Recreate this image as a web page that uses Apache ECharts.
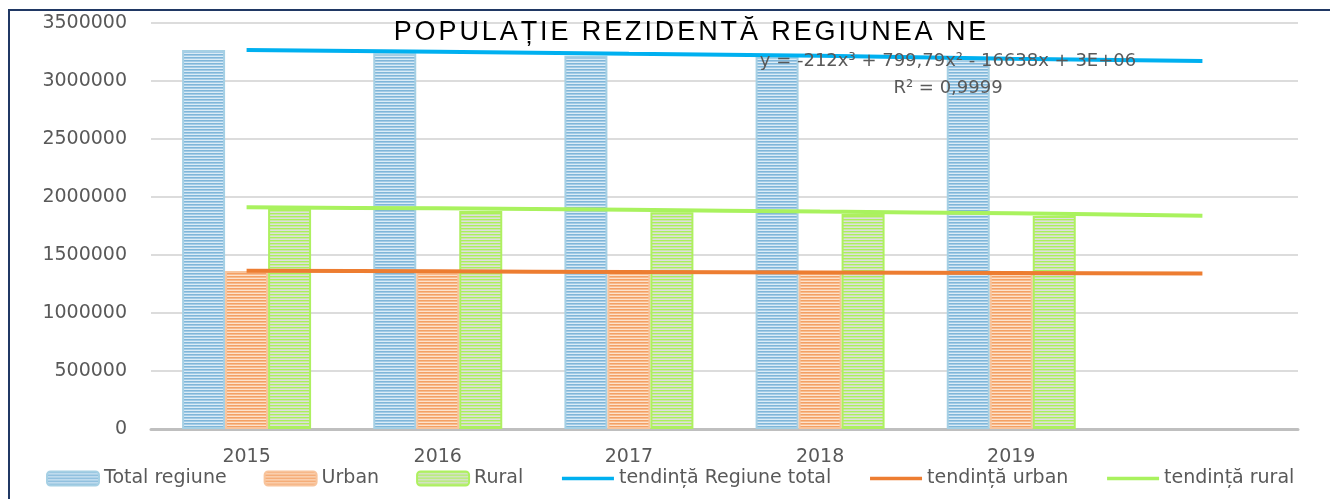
<!DOCTYPE html>
<html>
<head>
<meta charset="utf-8">
<script src="https://cdn.jsdelivr.net/npm/echarts@6/dist/echarts.min.js"></script>
<style>
  html, body { margin: 0; padding: 0; background: #fff; }
  #populatie { width: 1330px; height: 499px; }
</style>
</head>
<body>
<div id="populatie"></div>
<script>
const years = ['2015', '2016', '2017', '2018', '2019', ''];
const totalRegiune = [3267000, 3239000, 3218000, 3207000, 3190000];
const urban = [1362000, 1356000, 1351000, 1347000, 1343000];
const rural = [1897000, 1879000, 1868000, 1853000, 1836000];
// trend lines (one period forward)
const trendTotal = [3267000, 3253000, 3234000, 3218000, 3192000, 3172000];
const trendUrban = [1365000, 1359000, 1354000, 1349000, 1345000, 1341000];
const trendRural = [1911000, 1902000, 1890000, 1874000, 1859000, 1839000];

const titleText = 'POPULAȚIE REZIDENTĂ REGIUNEA NE';
const font = 'DejaVu Sans';
const grey = '#595959';

// horizontal line fill like the Excel one
function stripes(dark, mid, light) {
    const c = document.createElement('canvas');
    c.width = 4;
    c.height = 3;
    const ctx = c.getContext('2d');
    [dark, mid, light].forEach((col, i) => {
        ctx.fillStyle = col;
        ctx.fillRect(0, i, 4, 1);
    });
    return {image: c, repeat: 'repeat'};
}

const barStyle = (dark, mid, light, border) => ({
    color: stripes(dark, mid, light),
    borderColor: border,
    borderWidth: 2,
});

// spaced-out title: one rich token per letter
const spacedTitle = titleText.split('').map(ch => '{t|' + ch + '}').join('');

const lineLegend = (name, color) => ({
    name,
    itemStyle: {opacity: 0},
    lineStyle: {color, width: 3.5},
});

option = {
    backgroundColor: '#fff',
    animation: false,
    grid: {
        left: 151,
        right: 32,
        top: 23,
        bottom: 70,
    },
    legend: {
        left: 41,
        top: 464,
        itemWidth: 52,
        itemHeight: 14,
        itemGap: 37,
        textStyle: {fontFamily: font, fontSize: 19, color: grey},
        data: [
            'Total regiune', 'Urban', 'Rural',
            lineLegend('tendință Regiune total', '#00b0f0'),
            lineLegend('tendință urban', '#ed7d31'),
            lineLegend('tendință rural', '#a9f25e'),
        ],
    },
    xAxis: {
        type: 'category',
        data: years,
        axisLine: {lineStyle: {color: '#bfbfbf', width: 3}},
        axisTick: {show: false},
        axisLabel: {
            fontFamily: font,
            fontSize: 19,
            color: grey,
            margin: 19,
            interval: 0,
        },
    },
    yAxis: {
        type: 'value',
        min: 0,
        max: 3500000,
        interval: 500000,
        axisLine: {show: false},
        axisTick: {show: false},
        axisLabel: {
            fontFamily: font,
            fontSize: 19,
            color: grey,
            margin: 24,
            formatter: v => String(v),
        },
        splitLine: {lineStyle: {color: '#dcdcdc', width: 2}},
    },
    graphic: [
        {
            type: 'rect',
            silent: true,
            shape: {x: 9, y: 10, width: 1400, height: 600},
            style: {fill: null, stroke: '#203864', lineWidth: 2},
        },
        {
            type: 'text',
            x: 690,
            y: 33,
            z: 10,
            style: {
                text: spacedTitle,
                align: 'center',
                verticalAlign: 'middle',
                rich: {
                    t: {
                        fontFamily: 'Liberation Sans',
                        fontSize: 27,
                        color: '#111',
                        padding: [0, 1.45],
                    },
                },
            },
        },
        {
            type: 'text',
            x: 948,
            y: 61,
            z: 10,
            style: {
                text: 'y = -212x³ + 799,79x² - 16638x + 3E+06',
                fontFamily: font,
                fontSize: 18,
                fill: grey,
                align: 'center',
                verticalAlign: 'middle',
            },
        },
        {
            type: 'text',
            x: 948,
            y: 88,
            z: 10,
            style: {
                text: 'R² = 0,9999',
                fontFamily: font,
                fontSize: 18,
                fill: grey,
                align: 'center',
                verticalAlign: 'middle',
            },
        },
    ],
    series: [
        {
            name: 'Total regiune',
            type: 'bar',
            barWidth: 43,
            barGap: '0%',
            data: totalRegiune,
            itemStyle: barStyle('#7fb6d9', '#a3cbe6', '#dbecf6', '#a6d0e4'),
        },
        {
            name: 'Urban',
            type: 'bar',
            barWidth: 43,
            barGap: '0%',
            data: urban,
            itemStyle: barStyle('#f4a064', '#f7bb8d', '#fde2cc', '#f8c49c'),
        },
        {
            name: 'Rural',
            type: 'bar',
            barWidth: 43,
            barGap: '0%',
            data: rural,
            itemStyle: barStyle('#acef5c', '#c9e9a6', '#dedede', '#aef060'),
        },
        {
            name: 'tendință Regiune total',
            type: 'line',
            data: trendTotal,
            symbol: 'none',
            smooth: 0.3,
            z: 5,
            lineStyle: {color: '#00b0f0', width: 4},
            itemStyle: {color: '#00b0f0'},
        },
        {
            name: 'tendință urban',
            type: 'line',
            data: trendUrban,
            symbol: 'none',
            smooth: 0.3,
            z: 5,
            lineStyle: {color: '#ed7d31', width: 4},
            itemStyle: {color: '#ed7d31'},
        },
        {
            name: 'tendință rural',
            type: 'line',
            data: trendRural,
            symbol: 'none',
            smooth: 0.3,
            z: 5,
            lineStyle: {color: '#a9f25e', width: 4},
            itemStyle: {color: '#a9f25e'},
        },
    ],
};

dom = document.getElementById('populatie');
chart = echarts.init(dom);
chart.setOption(option);
</script>
</body>
</html>
